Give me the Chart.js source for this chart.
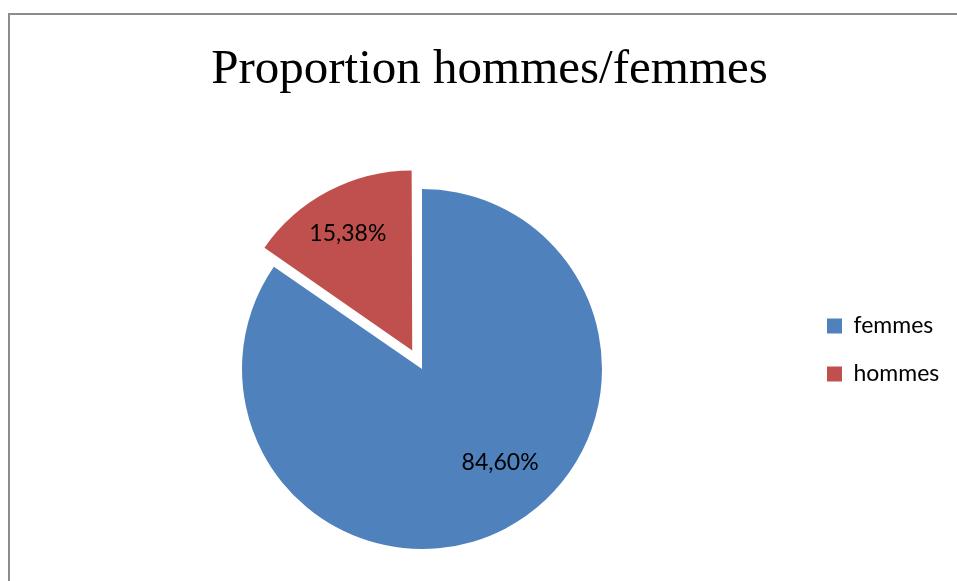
<!DOCTYPE html>
<html>
<head>
<meta charset="utf-8">
<script src="https://cdn.jsdelivr.net/npm/chart.js@4.4.1/dist/chart.umd.min.js"></script>
<style>
  html, body { margin: 0; padding: 0; background: #ffffff; overflow: hidden; }
  #wrap { position: relative; width: 957px; height: 581px; overflow: hidden; }
  #c { position: absolute; left: 0; top: 0; display: block; }
  #frame { position: absolute; left: 8px; top: 13px; width: 1000px; height: 700px;
           border-left: 2px solid #8c8c8c; border-top: 2px solid #8c8c8c; pointer-events: none; }
</style>
</head>
<body>
<div id="wrap">
  <canvas id="c" width="949" height="581"></canvas>
  <div id="frame"></div>
</div>
<script>
// ---- data ----
const categories = ['femmes', 'hommes'];
const values = [84.60, 15.38];
const titleText = 'Proportion hommes/femmes';

// ---- style ----
const colors = ['#4F81BD', '#C0504D'];
const explode = [0, 84];
const labelAngleFrac = [0.46, 0.478];
const labelRadiusFrac = [0.677, 0.74];
const pieRadius = 180;

function fmt(v) { return v.toFixed(2).replace('.', ',') + '%'; }

// keep exploded slices at the same radius as the others
const explodeRadiusFix = {
  id: 'explodeRadiusFix',
  afterDatasetsUpdate(chart) {
    const meta = chart.getDatasetMeta(0);
    meta.data.forEach((arc, i) => {
      const off = (explode[i] || 0) / 4;
      if (!off) return;
      const circ = arc.endAngle - arc.startAngle;
      const fix = 1 - Math.sin(Math.min(Math.PI, circ));
      arc.outerRadius = pieRadius - off * fix;
    });
  }
};

const sliceLabels = {
  id: 'sliceLabels',
  afterDatasetsDraw(chart) {
    const ctx = chart.ctx;
    const meta = chart.getDatasetMeta(0);
    ctx.save();
    ctx.font = '23px Lato';
    ctx.fillStyle = '#000000';
    ctx.textAlign = 'center';
    ctx.textBaseline = 'middle';
    meta.data.forEach((arc, i) => {
      const p = arc.getProps(['x', 'y', 'startAngle', 'endAngle'], true);
      const mid = (p.startAngle + p.endAngle) / 2;
      const off = (explode[i] || 0) / 4;
      const cx = p.x + Math.cos(mid) * off;
      const cy = p.y + Math.sin(mid) * off;
      const a = p.startAngle + labelAngleFrac[i] * (p.endAngle - p.startAngle);
      const r = labelRadiusFrac[i] * pieRadius;
      ctx.fillText(fmt(values[i]), cx + Math.cos(a) * r, cy + Math.sin(a) * r);
    });
    ctx.restore();
  }
};

function draw() {
  new Chart(document.getElementById('c'), {
    type: 'pie',
    data: {
      labels: categories,
      datasets: [{
        data: values,
        backgroundColor: colors,
        borderWidth: 0,
        offset: explode,
        radius: pieRadius
      }]
    },
    options: {
      responsive: false,
      animation: false,
      events: [],
      radius: pieRadius,
      layout: { padding: { left: 30, right: 0, top: 0, bottom: 0 } },
      plugins: {
        title: {
          display: true,
          text: titleText,
          color: '#000000',
          font: { family: 'Liberation Serif', size: 49, weight: 'normal', lineHeight: 1.2 },
          padding: { top: 41, bottom: 57.2 }
        },
        subtitle: {
          display: true,
          position: 'left',
          text: ' ',
          color: 'rgba(0,0,0,0)',
          font: { size: 10, lineHeight: 1.2 },
          padding: 0
        },
        legend: {
          position: 'right',
          align: 'start',
          maxWidth: 147,
          title: { display: true, text: '', font: { size: 10, lineHeight: 1.2 }, padding: { top: 277.5, bottom: 0 } },
          labels: {
            boxWidth: 15,
            boxHeight: 15,
            padding: 25,
            color: '#000000',
            font: { family: 'Lato', size: 23 }
          }
        },
        tooltip: { enabled: false }
      }
    },
    plugins: [explodeRadiusFix, sliceLabels]
  });
}

Promise.all([
  document.fonts.load('49px "Liberation Serif"'),
  document.fonts.load('23px Lato')
]).then(draw, draw);
</script>
</body>
</html>
